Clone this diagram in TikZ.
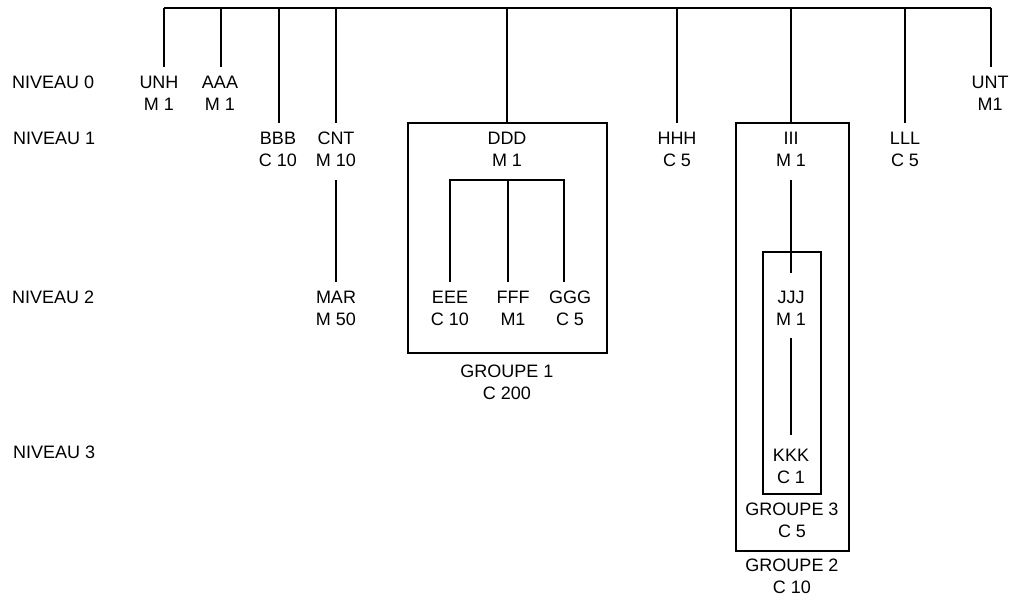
\documentclass[tikz,border=0pt]{standalone}
\usepackage{fontspec}
\setmainfont{Liberation Sans}
\begin{document}
\begin{tikzpicture}[x=1pt,y=-1pt,
  every node/.style={font=\fontsize{18}{22}\selectfont},
  item/.style={align=center, inner xsep=1pt, inner ysep=8.5pt},
  lvl/.style={anchor=west, inner sep=0pt},
  grp/.style={draw, line width=1.4pt, inner sep=0pt},
  link/.style={line width=1.4pt}]
\useasboundingbox (0,0) rectangle (1010,601);
% level labels
\node[lvl] (n0) at (12,82) {NIVEAU 0};
\node[lvl] (n1) at (13,138) {NIVEAU 1};
\node[lvl] (n2) at (12,297) {NIVEAU 2};
\node[lvl] (n3) at (13,452) {NIVEAU 3};
% bus coordinates
\coordinate (bUNH) at (164,8);
\coordinate (bAAA) at (221,8);
\coordinate (bBBB) at (279,8);
\coordinate (bCNT) at (336,8);
\coordinate (bDDD) at (507,8);
\coordinate (bHHH) at (677,8);
\coordinate (bIII) at (791,8);
\coordinate (bLLL) at (905,8);
\coordinate (bUNT) at (991,8);
% groups
\node[grp, minimum width=199pt, minimum height=230pt] (g1) at (507.5,238) {};
\node[grp, minimum width=113pt, minimum height=428pt] (g2) at (792.5,337) {};
\node[grp, minimum width=58pt, minimum height=242pt] (g3) at (792,373) {};
% items
\node[item] (UNH) at (159,93) {UNH\\M 1};
\node[item] (AAA) at (220,93) {AAA\\M 1};
\node[item] (UNT) at (990,93) {UNT\\M1};
\node[item] (BBB) at (278,149) {BBB\\C 10};
\node[item] (CNT) at (336,149) {CNT\\M 10};
\node[item] (DDD) at (507,149) {DDD\\M 1};
\node[item] (HHH) at (677,149) {HHH\\C 5};
\node[item] (III) at (791,149) {III\\M 1};
\node[item] (LLL) at (905,149) {LLL\\C 5};
\node[item] (MAR) at (336,308) {MAR\\M 50};
\node[item] (EEE) at (450,308) {EEE\\C 10};
\node[item] (FFF) at (513,308) {FFF\\M1};
\node[item] (GGG) at (570,308) {GGG\\C 5};
\node[item] (JJJ) at (791,308) {JJJ\\M 1};
\node[item] (KKK) at (791,466) {KKK\\C 1};
% group labels
\node[item, inner ysep=0pt] (lg1) at (507,382) {GROUPE 1\\C 200};
\node[item, inner ysep=0pt] (lg3) at (792,520) {GROUPE 3\\C 5};
\node[item, inner ysep=0pt] (lg2) at (792,576) {GROUPE 2\\C 10};
% bus
\draw[link] (bUNH) -- (bUNT);
\draw[link] (bUNH) -- (bUNH |- UNH.north);
\draw[link] (bAAA) -- (bAAA |- AAA.north);
\draw[link] (bBBB) -- (bBBB |- BBB.north);
\draw[link] (bCNT) -- (bCNT |- CNT.north);
\draw[link] (bDDD) -- (bDDD |- g1.north);
\draw[link] (bHHH) -- (bHHH |- HHH.north);
\draw[link] (bIII) -- (bIII |- g2.north);
\draw[link] (bLLL) -- (bLLL |- LLL.north);
\draw[link] (bUNT) -- (bUNT |- UNT.north);
% CNT -> MAR
\draw[link] ([yshift=-5pt]CNT.south) -- (MAR.north);
% DDD subtree
\coordinate (jE) at (450,180);
\coordinate (jF) at (508,180);
\coordinate (jG) at (564,180);
\draw[link] (jE |- EEE.north) -- (jE) -- (jG) -- (jG |- GGG.north);
\draw[link] (jF) -- (jF |- FFF.north);
% III -> JJJ -> KKK
\draw[link] ([yshift=-5pt]III.south) -- ([yshift=9pt]JJJ.north);
\draw[link] ([yshift=-4pt]JJJ.south) -- ([yshift=5pt]KKK.north);
\end{tikzpicture}
\end{document}
